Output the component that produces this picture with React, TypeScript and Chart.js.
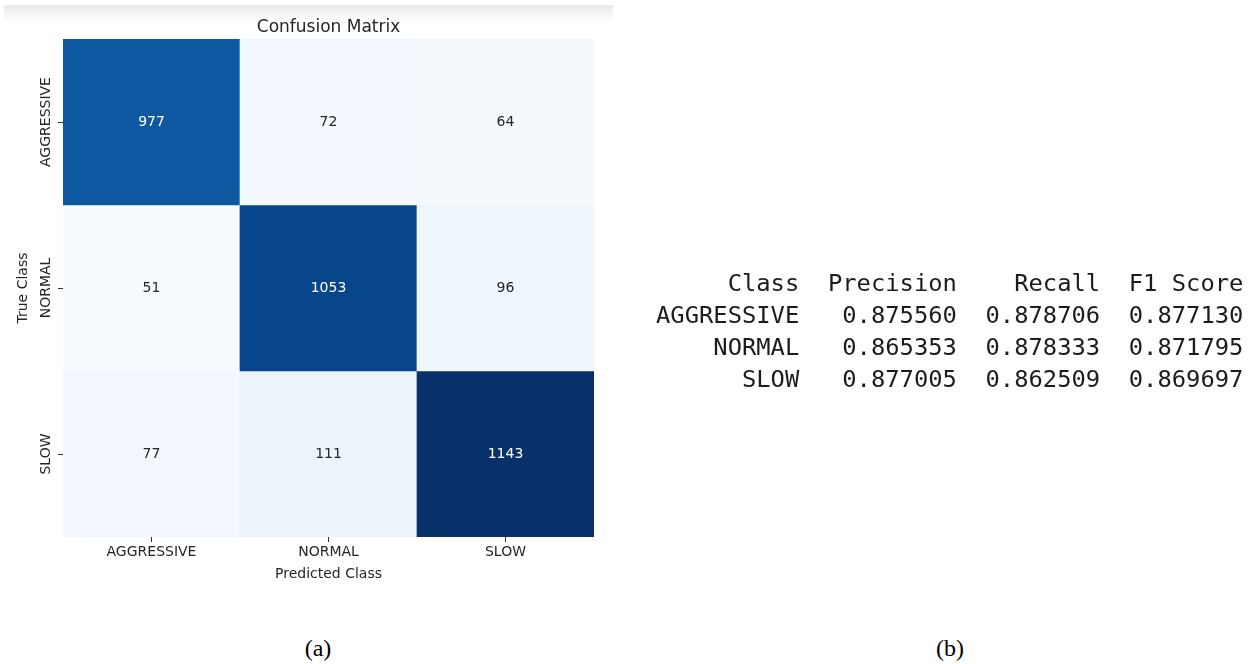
import React, { useEffect, useRef } from "react";
import { Chart, registerables } from "chart.js";

Chart.register(...registerables);

// ---------- data ----------
const predictedClasses = ["AGGRESSIVE", "NORMAL", "SLOW"];
const trueClasses = ["AGGRESSIVE", "NORMAL", "SLOW"];
const rowAggressive = [977, 72, 64];
const rowNormal = [51, 1053, 96];
const rowSlow = [77, 111, 1143];
const cellUnits = [1, 1, 1];

const metricClasses = ["AGGRESSIVE", "NORMAL", "SLOW"];
const precisionValues = [0.87556, 0.865353, 0.877005];
const recallValues = [0.878706, 0.878333, 0.862509];
const f1Values = [0.87713, 0.871795, 0.869697];
const tableHeaders = ["Class", "Precision", "Recall", "F1 Score"];

const captions = ["(a)", "(b)"];

// ---------- colour map (matplotlib "Blues") ----------
const BLUES: number[][] = [
  [247, 251, 255],
  [222, 235, 247],
  [198, 219, 239],
  [158, 202, 225],
  [107, 174, 214],
  [66, 146, 198],
  [33, 113, 181],
  [8, 81, 156],
  [8, 48, 107],
];

function bluesRGB(t: number): number[] {
  const c = Math.max(0, Math.min(1, t));
  const pos = c * (BLUES.length - 1);
  const i = Math.min(Math.floor(pos), BLUES.length - 2);
  const f = pos - i;
  const a = BLUES[i];
  const b = BLUES[i + 1];
  return [0, 1, 2].map((k) => Math.round(a[k] + (b[k] - a[k]) * f));
}

function lum(rgb: number[]): number {
  const lin = rgb.map((v) => {
    const s = v / 255;
    return s <= 0.03928 ? s / 12.92 : Math.pow((s + 0.055) / 1.055, 2.4);
  });
  return 0.2126 * lin[0] + 0.7152 * lin[1] + 0.0722 * lin[2];
}

const matrixRows = [rowAggressive, rowNormal, rowSlow];
const allCounts = matrixRows.flat();
const vmin = Math.min(...allCounts);
const vmax = Math.max(...allCounts);
const norm = (v: number) => (v - vmin) / (vmax - vmin);

const FONT = '"DejaVu Sans", "Noto Sans", sans-serif';
const TEXT_DARK = "#262626";

const cellLabels = {
  id: "cellLabels",
  afterDatasetsDraw(chart: any) {
    const ctx = chart.ctx;
    ctx.save();
    ctx.font = `14px ${FONT}`;
    ctx.textAlign = "center";
    ctx.textBaseline = "middle";
    chart.data.datasets.forEach((ds: any, i: number) => {
      const meta = chart.getDatasetMeta(i);
      meta.data.forEach((el: any, j: number) => {
        const v = matrixRows[i][j];
        const rgb = bluesRGB(norm(v));
        ctx.fillStyle = lum(rgb) < 0.408 ? "#ffffff" : TEXT_DARK;
        const cy = (el.y + el.base) / 2;
        ctx.fillText(String(v), el.x, cy);
      });
    });
    ctx.restore();
  },
};

const yTickLabels = {
  id: "yTickLabels",
  afterDraw(chart: any) {
    const s = chart.scales.y;
    const ctx = chart.ctx;
    ctx.save();
    ctx.font = `14px ${FONT}`;
    ctx.fillStyle = TEXT_DARK;
    ctx.textAlign = "center";
    ctx.textBaseline = "middle";
    const x = s.right - 5 - 3 - 8.4;
    trueClasses.forEach((label, i) => {
      const y = s.getPixelForValue(i + 0.5);
      ctx.save();
      ctx.translate(x, y);
      ctx.rotate(-Math.PI / 2);
      ctx.fillText(label, 0, 0);
      ctx.restore();
    });
    ctx.restore();
  },
};

function Heatmap() {
  const ref = useRef<HTMLCanvasElement | null>(null);
  useEffect(() => {
    if (!ref.current) return;
    const datasets = matrixRows.map((row, i) => ({
      label: trueClasses[i],
      data: cellUnits,
      backgroundColor: row.map((v) => {
        const c = bluesRGB(norm(v));
        return `rgb(${c[0]},${c[1]},${c[2]})`;
      }),
      borderWidth: 0,
      barPercentage: 1,
      categoryPercentage: 1,
    }));
    const chart = new Chart(ref.current, {
      type: "bar",
      data: { labels: predictedClasses, datasets },
      options: {
        responsive: false,
        animation: false,
        events: [],
        layout: { padding: 0 },
        plugins: {
          legend: { display: false },
          tooltip: { enabled: false },
          title: {
            display: true,
            text: "Confusion Matrix",
            color: TEXT_DARK,
            font: { family: FONT, size: 17, weight: "normal" },
            padding: { top: 17.6, bottom: 1 },
          },
        },
        scales: {
          x: {
            type: "category",
            stacked: true,
            offset: true,
            border: { display: false },
            grid: {
              display: true,
              offset: false,
              drawOnChartArea: false,
              drawTicks: true,
              tickLength: 5,
              color: "#333333",
            },
            ticks: {
              color: TEXT_DARK,
              font: { family: FONT, size: 14 },
              padding: 2,
              maxRotation: 0,
              minRotation: 0,
            },
            title: {
              display: true,
              text: "Predicted Class",
              color: TEXT_DARK,
              font: { family: FONT, size: 14 },
              padding: { top: 0, bottom: 17.6 },
            },
            afterFit(s: any) {
              s.height = 63;
            },
          },
          y: {
            type: "linear",
            stacked: true,
            reverse: true,
            min: 0,
            max: 3,
            border: { display: false },
            grid: {
              display: true,
              drawOnChartArea: false,
              drawTicks: true,
              tickLength: 5,
              color: "#333333",
            },
            ticks: { display: false },
            afterBuildTicks(s: any) {
              s.ticks = trueClasses.map((_, i) => ({ value: i + 0.5 }));
            },
            title: {
              display: true,
              text: "True Class",
              color: TEXT_DARK,
              font: { family: FONT, size: 14 },
              padding: { top: 14.6, bottom: 0 },
            },
            afterFit(s: any) {
              s.width = 63;
            },
          },
          y2: {
            type: "linear",
            position: "right",
            display: true,
            border: { display: false },
            grid: { display: false },
            ticks: { display: false },
            afterFit(s: any) {
              s.width = 63;
            },
          },
        },
      },
      plugins: [cellLabels, yTickLabels],
    } as any);
    return () => chart.destroy();
  }, []);
  return (
    <canvas
      ref={ref}
      width={657}
      height={600}
      style={{ position: "absolute", left: 0, top: 0, width: 657, height: 600 }}
    />
  );
}

function MetricsTable() {
  const lines: string[] = [];
  lines.push(
    tableHeaders[0].padStart(10) +
      "  " +
      tableHeaders[1].padStart(9) +
      "  " +
      tableHeaders[2].padStart(8) +
      "  " +
      tableHeaders[3].padStart(8)
  );
  metricClasses.forEach((name, i) => {
    lines.push(
      name.padStart(10) +
        "  " +
        precisionValues[i].toFixed(6).padStart(9) +
        "  " +
        recallValues[i].toFixed(6).padStart(8) +
        "  " +
        f1Values[i].toFixed(6).padStart(8)
    );
  });
  return (
    <pre
      style={{
        position: "absolute",
        left: 656,
        top: 267,
        margin: 0,
        fontFamily: '"DejaVu Sans Mono", "Liberation Mono", monospace',
        fontSize: 23.8,
        lineHeight: "32px",
        color: "#1c1c1c",
      }}
    >
      {lines.join("\n")}
    </pre>
  );
}

export default function App() {
  const captionX = [318, 950];
  return (
    <div
      style={{
        position: "absolute",
        left: 0,
        top: 0,
        width: 1252,
        height: 664,
        background: "#ffffff",
        overflow: "hidden",
      }}
    >
      <div
        style={{
          position: "absolute",
          left: 4,
          top: 5,
          width: 609,
          height: 17,
          background: "linear-gradient(to bottom, #e9e9e9, #ffffff)",
        }}
      />
      <Heatmap />
      <MetricsTable />
      {captions.map((c, i) => (
        <div
          key={c}
          style={{
            position: "absolute",
            left: captionX[i] - 50,
            width: 100,
            top: 634,
            textAlign: "center",
            fontFamily: '"Liberation Serif", "Times New Roman", serif',
            fontSize: 24,
            lineHeight: "28px",
            color: "#000",
          }}
        >
          {c}
        </div>
      ))}
    </div>
  );
}
